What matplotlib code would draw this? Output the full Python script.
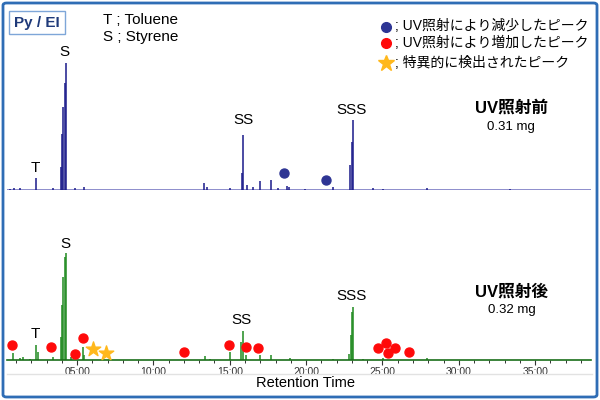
import matplotlib
matplotlib.use("Agg")
import matplotlib.pyplot as plt
from matplotlib.patches import FancyBboxPatch, Rectangle
from matplotlib.lines import Line2D
from matplotlib.ticker import MultipleLocator, FuncFormatter

plt.rcParams['font.family'] = ['Liberation Sans', 'Noto Sans CJK JP']

# chromatogram before UV (time in min, relative intensity)
before_t = [0.61, 0.87, 1.26, 2.31, 3.43, 3.93, 4.01, 4.10, 4.19, 4.28, 4.87, 5.45,
            13.31, 13.51, 15.02, 15.78, 15.89, 16.11, 16.52, 16.98, 17.68, 18.16,
            18.75, 18.88, 19.93, 21.76, 22.88, 22.99, 23.09, 24.38, 25.04, 27.92, 33.35]
before_h = [1, 2, 2, 12, 2, 23, 56, 83, 107, 127, 2, 3,
            7, 3, 2, 17, 55, 5, 3, 9, 10, 2,
            4, 3, 1, 3, 25, 48, 70, 2, 1, 2, 1]

# chromatogram after UV
after_t = [0.79, 1.26, 1.44, 1.92, 2.31, 2.42, 3.40, 3.93, 4.01, 4.10, 4.19, 4.28,
           4.58, 5.37, 5.46, 13.38, 13.70, 15.02, 15.76, 15.85, 16.07, 16.98, 17.68,
           18.95, 21.76, 22.83, 22.92, 23.00, 23.07, 23.75, 25.06, 27.90]
after_h = [7, 2, 3, 1, 15, 8, 3, 23, 55, 83, 103, 107,
           3, 13, 5, 4, 1, 8, 18, 29, 5, 5, 5,
           2, 1, 6, 25, 48, 53, 1, 2, 2]

peak_names = ['T', 'S', 'SS', 'SSS']
before_label_t = [2.25, 4.2, 15.87, 23.0]
before_label_h = [22, 137, 70, 80]
after_label_t = [2.27, 4.23, 15.80, 22.95]
after_label_h = [26, 116, 39, 63]

# peaks decreased by UV (blue), increased (red), specific (star)
dec_t = [18.55, 21.30]
dec_h = [17, 10]
inc_t = [0.72, 3.29, 4.85, 5.37, 12.02, 14.93, 16.08, 16.85,
         24.71, 25.21, 25.37, 25.82, 26.72]
inc_h = [15, 13, 6, 22, 8, 15, 13, 12, 12, 17, 7, 12, 8]
star_t = [6.06, 6.90]
star_h = [11, 7]

xmin, xmax = 0.41, 38.66
navy = '#1a1a8a'
green = '#1f8a1f'
blue_dot = '#2e3594'
red_dot = '#ff0a0a'
gold = '#ffb81c'

fig = plt.figure(figsize=(6, 4), dpi=100)


def fx(x):
    return x / 600


def fy(y):
    return 1 - y / 400


# upper panel
ax1 = fig.add_axes([fx(7), fy(190), 584 / 600, 150 / 400])
ax1.set_xlim(xmin, xmax)
ax1.set_ylim(-0.5, 149.5)
ax1.axis('off')
ax1.axhline(0, color='#7a7ac4', lw=1.2)
ax1.vlines(before_t, 0, before_h, color=navy, lw=1.1)
ax1.scatter(dec_t, dec_h, s=42, color=blue_dot, zorder=5, clip_on=False)
for n, t, h in zip(peak_names, before_label_t, before_label_h):
    ax1.text(t, h, n, ha='center', va='center', fontsize=11)

# lower panel
ax2 = fig.add_axes([fx(7), fy(360), 584 / 600, 150 / 400])
ax2.set_xlim(xmin, xmax)
ax2.set_ylim(-0.5, 149.5)
ax2.patch.set_visible(False)
for s in ['left', 'right', 'top']:
    ax2.spines[s].set_visible(False)
ax2.spines['bottom'].set_color('#1a6e1a')
ax2.spines['bottom'].set_linewidth(1.2)
ax2.set_yticks([])
ax2.vlines(after_t, 0, after_h, color=green, lw=1.1)
ax2.scatter(inc_t, inc_h, s=42, color=red_dot, zorder=5, clip_on=False)
ax2.scatter(star_t, star_h, s=120, marker='*', color=gold, zorder=5, clip_on=False)
for n, t, h in zip(peak_names, after_label_t, after_label_h):
    ax2.text(t, h, n, ha='center', va='center', fontsize=11)
ax2.xaxis.set_major_locator(MultipleLocator(5))
ax2.xaxis.set_minor_locator(MultipleLocator(1))
ax2.xaxis.set_major_formatter(FuncFormatter(lambda v, p: '%02d:00' % int(round(v))))
ax2.tick_params(axis='x', which='major', length=3.5, width=0.8, color='#333333',
                labelsize=7.5, labelcolor='#333333', pad=1.5)
ax2.tick_params(axis='x', which='minor', length=2, width=0.7, color='#333333')

# gray line under tick labels and axis title
fig.add_artist(Line2D([fx(7), fx(592)], [fy(374), fy(374)], color='#e2e2e2', lw=1))
fig.text(fx(305), fy(383), 'Retention Time', ha='center', va='center', fontsize=10.5)

# Py / EI box
fig.add_artist(Rectangle((fx(9), fy(34)), 56 / 600, 23 / 400, transform=fig.transFigure,
                         fill=False, ec='#7ea6d8', lw=1))
fig.text(fx(37), fy(22.5), 'Py / EI', ha='center', va='center', fontsize=11,
         fontweight='bold', color='#1f3a7a')

# compound key
fig.text(fx(103), fy(20), 'T ; Toluene', ha='left', va='center', fontsize=11)
fig.text(fx(103), fy(37), 'S ; Styrene', ha='left', va='center', fontsize=11)

# marker legend
fig.add_artist(Line2D([fx(386)], [fy(27)], marker='o', ms=7, color=blue_dot, lw=0))
fig.add_artist(Line2D([fx(386)], [fy(43)], marker='o', ms=7, color=red_dot, lw=0))
fig.add_artist(Line2D([fx(386)], [fy(63)], marker='*', ms=12, color=gold, lw=0))
fig.text(fx(395), fy(26), '; UV照射により減少したピーク', ha='left', va='center', fontsize=10)
fig.text(fx(395), fy(43), '; UV照射により増加したピーク', ha='left', va='center', fontsize=10)
fig.text(fx(395), fy(63), '; 特異的に検出されたピーク', ha='left', va='center', fontsize=10)

# sample captions
fig.text(fx(511), fy(108), 'UV照射前', ha='center', va='center', fontsize=12, fontweight='bold')
fig.text(fx(511), fy(127), '0.31 mg', ha='center', va='center', fontsize=9.5)
fig.text(fx(512), fy(292), 'UV照射後', ha='center', va='center', fontsize=12, fontweight='bold')
fig.text(fx(512), fy(310), '0.32 mg', ha='center', va='center', fontsize=9.5)

# outer frame
fig.add_artist(FancyBboxPatch((fx(3), fy(397)), 594 / 600, 394 / 400,
                              boxstyle='round,pad=0,rounding_size=0.006',
                              transform=fig.transFigure, fill=False,
                              ec='#2f6db5', lw=2))

fig.savefig('out.png', dpi=100)
